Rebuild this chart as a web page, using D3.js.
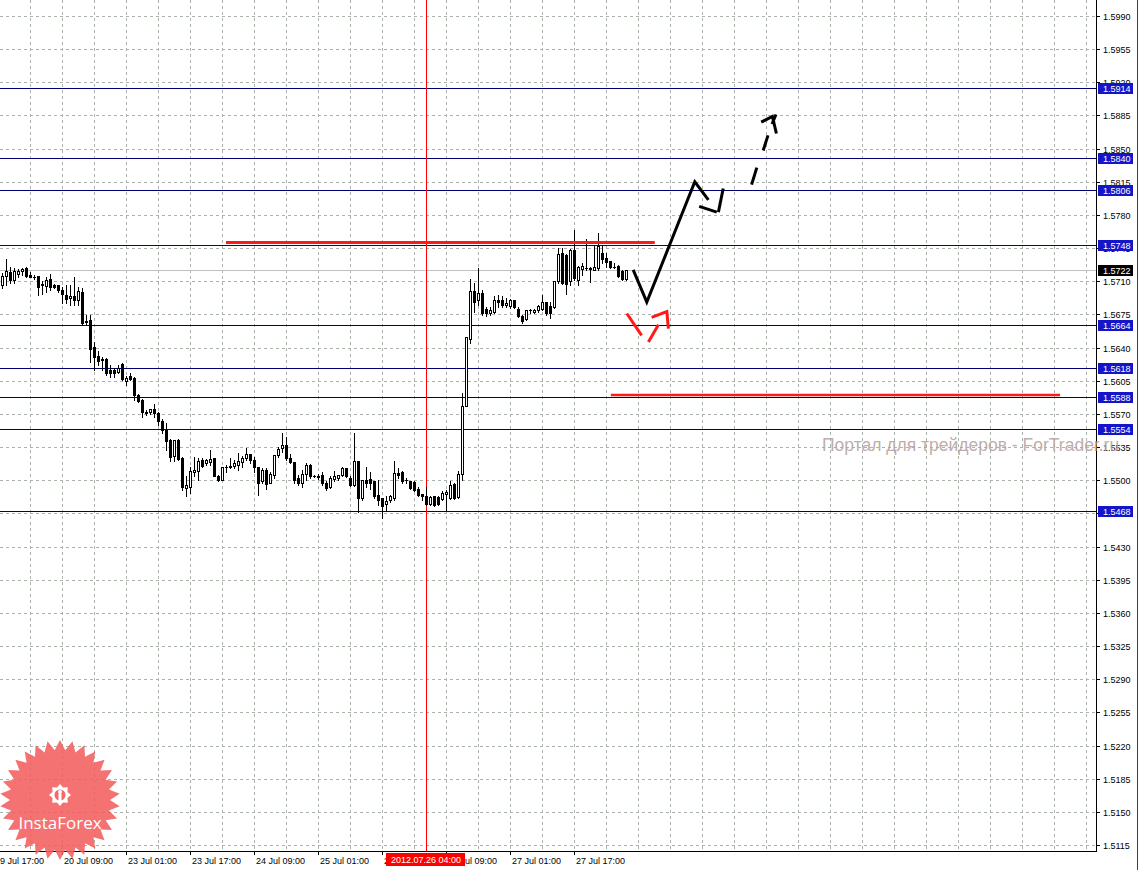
<!DOCTYPE html>
<html><head><meta charset="utf-8">
<script src="https://cdn.jsdelivr.net/npm/d3@7"></script>
<style>html,body{margin:0;padding:0;background:#fff;overflow:hidden}svg{display:block}</style>
</head><body>
<svg id="c" width="1139" height="870"></svg>
<script>
// ---- data (GBPUSD H1, bars 19 Jul 18:00 ... ) ----
const open = [1.5706,1.5716,1.5720,1.5711,1.5718,1.5721,1.5724,1.5717,1.5715,1.5716,
1.5707,1.5705,1.5712,1.5706,1.5706,1.5701,1.5696,1.5692,1.5694,1.5690,
1.5699,1.5667,1.5669,1.5641,1.5631,1.5628,1.5628,1.5616,1.5616,1.5614,
1.5623,1.5605,1.5610,1.5608,1.5590,1.5585,1.5572,1.5572,1.5575,1.5571,
1.5563,1.5553,1.5542,1.5526,1.5543,1.5523,1.5492,1.5493,1.5509,1.5510,
1.5521,1.5518,1.5519,1.5523,1.5505,1.5500,1.5514,1.5514,1.5515,1.5516,
1.5519,1.5523,1.5528,1.5521,1.5514,1.5499,1.5511,1.5497,1.5506,1.5527,
1.5534,1.5537,1.5524,1.5519,1.5502,1.5497,1.5507,1.5516,1.5504,1.5504,
1.5506,1.5497,1.5493,1.5501,1.5502,1.5506,1.5513,1.5502,1.5495,1.5520,
1.5481,1.5500,1.5501,1.5499,1.5484,1.5481,1.5475,1.5479,1.5481,1.5508,
1.5509,1.5500,1.5499,1.5498,1.5491,1.5486,1.5483,1.5475,1.5483,1.5482,
1.5480,1.5485,1.5481,1.5496,1.5482,1.5507,1.5578,1.5649,1.5700,1.5690,
1.5698,1.5681,1.5677,1.5678,1.5690,1.5690,1.5685,1.5684,1.5690,1.5681,
1.5673,1.5670,1.5680,1.5678,1.5680,1.5681,1.5688,1.5684,1.5683,1.5710,
1.5740,1.5738,1.5710,1.5743,1.5711,1.5723,1.5724,1.5724,1.5722,1.5724,
1.5740,1.5735,1.5731,1.5725,1.5726,1.5721,1.5712];
const high = [1.5719,1.5734,1.5725,1.5724,1.5723,1.5724,1.5725,1.5720,1.5717,1.5716,
1.5710,1.5714,1.5718,1.5707,1.5706,1.5704,1.5706,1.5706,1.5715,1.5704,
1.5703,1.5674,1.5674,1.5646,1.5636,1.5630,1.5629,1.5622,1.5618,1.5622,
1.5624,1.5610,1.5613,1.5609,1.5591,1.5586,1.5574,1.5575,1.5580,1.5572,
1.5565,1.5560,1.5544,1.5542,1.5544,1.5525,1.5504,1.5514,1.5525,1.5523,
1.5523,1.5522,1.5532,1.5523,1.5506,1.5514,1.5516,1.5524,1.5521,1.5529,
1.5526,1.5534,1.5528,1.5525,1.5514,1.5513,1.5513,1.5509,1.5527,1.5535,
1.5550,1.5546,1.5528,1.5519,1.5506,1.5511,1.5518,1.5517,1.5506,1.5507,
1.5509,1.5499,1.5504,1.5510,1.5506,1.5514,1.5513,1.5504,1.5550,1.5520,
1.5500,1.5514,1.5509,1.5499,1.5500,1.5481,1.5483,1.5484,1.5520,1.5513,
1.5510,1.5502,1.5499,1.5499,1.5493,1.5486,1.5493,1.5483,1.5483,1.5483,
1.5489,1.5490,1.5499,1.5497,1.5510,1.5592,1.5651,1.5712,1.5708,1.5724,
1.5701,1.5683,1.5683,1.5694,1.5696,1.5694,1.5692,1.5691,1.5690,1.5683,
1.5674,1.5680,1.5681,1.5681,1.5685,1.5696,1.5688,1.5688,1.5710,1.5745,
1.5745,1.5739,1.5744,1.5764,1.5726,1.5729,1.5755,1.5725,1.5747,1.5761,
1.5748,1.5740,1.5731,1.5729,1.5727,1.5722,1.5722];
const low = [1.5703,1.5706,1.5708,1.5708,1.5715,1.5717,1.5715,1.5714,1.5712,1.5696,
1.5697,1.5699,1.5701,1.5703,1.5699,1.5687,1.5687,1.5685,1.5685,1.5685,
1.5664,1.5664,1.5625,1.5616,1.5622,1.5616,1.5611,1.5609,1.5609,1.5613,
1.5606,1.5600,1.5606,1.5585,1.5583,1.5567,1.5569,1.5570,1.5567,1.5558,
1.5550,1.5532,1.5520,1.5520,1.5521,1.5490,1.5483,1.5487,1.5504,1.5500,
1.5514,1.5516,1.5516,1.5504,1.5499,1.5500,1.5509,1.5513,1.5513,1.5511,
1.5514,1.5521,1.5518,1.5509,1.5484,1.5497,1.5491,1.5497,1.5502,1.5525,
1.5530,1.5521,1.5518,1.5497,1.5495,1.5493,1.5500,1.5502,1.5503,1.5501,
1.5495,1.5490,1.5492,1.5499,1.5500,1.5505,1.5503,1.5494,1.5494,1.5467,
1.5479,1.5493,1.5491,1.5481,1.5474,1.5460,1.5469,1.5477,1.5479,1.5502,
1.5497,1.5497,1.5491,1.5489,1.5483,1.5479,1.5474,1.5474,1.5473,1.5474,
1.5479,1.5469,1.5480,1.5480,1.5481,1.5500,1.5578,1.5645,1.5678,1.5685,
1.5674,1.5673,1.5674,1.5676,1.5683,1.5683,1.5683,1.5682,1.5682,1.5672,
1.5666,1.5669,1.5676,1.5676,1.5678,1.5680,1.5674,1.5671,1.5682,1.5708,
1.5707,1.5697,1.5706,1.5711,1.5706,1.5717,1.5722,1.5709,1.5722,1.5722,
1.5729,1.5725,1.5724,1.5724,1.5715,1.5711,1.5711];
const close = [1.5716,1.5721,1.5711,1.5721,1.5721,1.5723,1.5716,1.5715,1.5715,1.5704,
1.5706,1.5711,1.5704,1.5704,1.5701,1.5697,1.5691,1.5694,1.5690,1.5700,
1.5666,1.5668,1.5639,1.5630,1.5626,1.5627,1.5613,1.5613,1.5613,1.5618,
1.5607,1.5608,1.5607,1.5590,1.5584,1.5572,1.5571,1.5575,1.5571,1.5563,
1.5553,1.5541,1.5525,1.5542,1.5522,1.5493,1.5495,1.5510,1.5511,1.5520,
1.5515,1.5521,1.5522,1.5505,1.5500,1.5514,1.5514,1.5515,1.5518,1.5520,
1.5523,1.5528,1.5521,1.5514,1.5497,1.5511,1.5496,1.5507,1.5527,1.5533,
1.5537,1.5524,1.5519,1.5500,1.5497,1.5507,1.5516,1.5504,1.5504,1.5505,
1.5497,1.5492,1.5502,1.5504,1.5506,1.5513,1.5504,1.5495,1.5520,1.5481,
1.5500,1.5497,1.5497,1.5483,1.5479,1.5473,1.5478,1.5483,1.5508,1.5506,
1.5499,1.5500,1.5492,1.5490,1.5484,1.5483,1.5475,1.5482,1.5474,1.5475,
1.5487,1.5488,1.5495,1.5481,1.5507,1.5578,1.5651,1.5700,1.5688,1.5698,
1.5676,1.5677,1.5680,1.5690,1.5688,1.5685,1.5687,1.5690,1.5683,1.5673,
1.5668,1.5680,1.5680,1.5680,1.5684,1.5688,1.5677,1.5677,1.5710,1.5739,
1.5708,1.5707,1.5743,1.5713,1.5725,1.5726,1.5724,1.5723,1.5725,1.5747,
1.5733,1.5730,1.5725,1.5725,1.5716,1.5712,1.5722];

const priceTicks = [1.5990,1.5955,1.5920,1.5885,1.5850,1.5815,1.5780,1.5745,1.5710,1.5675,1.5640,1.5605,1.5570,1.5535,1.5500,1.5465,1.5430,1.5395,1.5360,1.5325,1.5290,1.5255,1.5220,1.5185,1.5150,1.5115];
const timeTickBars = [-1,15,31,47,63,79,95,111,127,143];
const timeTickLabels = ["19 Jul 17:00","20 Jul 09:00","23 Jul 01:00","23 Jul 17:00","24 Jul 09:00","25 Jul 01:00","25 Jul 17:00","26 Jul 09:00","27 Jul 01:00","27 Jul 17:00"];
const levels = [1.5914,1.5840,1.5806,1.5748,1.5664,1.5618,1.5588,1.5554,1.5468];
const currentPrice = 1.5722;
const markerBar = 106, markerLabel = "2012.07.26 04:00";
// hand-drawn annotations: [bar, price]
const redLines = [[[56,1.5751],[163.2,1.5751]], [[152.2,1.5590],[264.5,1.5590]]];
const blackStrokes = [
  [[157.8,1.5722],[161.2,1.5688],[173.2,1.5815],[176.6,1.5796]],
  [[174.3,1.5789],[178.7,1.5783]],
  [[179.1,1.5783],[180.3,1.5808]]];
const blackDashes = [[[187.4,1.5812],[188.7,1.5830]],[[190.3,1.5848],[191.5,1.5864]],[[192.5,1.5876],[193.5,1.5886]]];
const arrowHead = [[189.8,1.5878],[192.6,1.5884],[193.6,1.5866]];
const redStrokes = [
  [[156.2,1.5676],[159.9,1.5653]],
  [[161.6,1.5646],[164.1,1.5664]],
  [[162.4,1.5672],[166.2,1.5678],[166.6,1.5660]]];
const watermark = "Портал для трейдеров - ForTrader.ru";

// ---- layout ----
const W = 1139, H = 870, plotR = 1096, plotB = 851;
const svg = d3.select("#c");
const x = d3.scaleLinear().domain([0, 1]).range([2, 6]);   // 4 px per bar
const y = d3.scaleLinear().domain([1.5115, 1.5990]).range([845, 16]);
const px = v => Math.round(x(v));
const py = v => Math.round(y(v));
const font = "'Liberation Sans', Arial, sans-serif";
const fs = "9px";

svg.append("rect").attr("width", W).attr("height", H).attr("fill", "#fff");
const plot = svg.append("g");
svg.append("clipPath").attr("id","pc").append("rect").attr("x",0).attr("y",0).attr("width",plotR).attr("height",plotB);

// grid
const gridColor = "#a9b3a9";
plot.selectAll("line.hg").data(priceTicks).join("line")
  .attr("x1", 0).attr("x2", plotR).attr("y1", d => py(d) + 0.5).attr("y2", d => py(d) + 0.5)
  .attr("stroke", gridColor).attr("stroke-dasharray", "3,3");
const vgrid = d3.range(-1, 280, 8);
plot.selectAll("line.vg").data(vgrid.filter(b => x(b) > 0 && x(b) < plotR)).join("line")
  .attr("x1", d => px(d) + 0.5).attr("x2", d => px(d) + 0.5).attr("y1", 0).attr("y2", plotB)
  .attr("stroke", gridColor).attr("stroke-dasharray", "3,3");

// current price line
plot.append("line").attr("x1",0).attr("x2",plotR).attr("y1",py(currentPrice)+0.5).attr("y2",py(currentPrice)+0.5)
  .attr("stroke","#c0c0c0");

// level lines
plot.selectAll("line.lv").data(levels).join("line")
  .attr("x1",0).attr("x2",plotR).attr("y1",d=>py(d)+0.5).attr("y2",d=>py(d)+0.5)
  .attr("stroke",d => d === 1.5748 ? "#0000b4" : "#000070").attr("stroke-width",1);

// marker vertical line
plot.append("line").attr("x1",px(markerBar)+0.5).attr("x2",px(markerBar)+0.5).attr("y1",0).attr("y2",plotB)
  .attr("stroke","#ff0000");

// candles
const bars = d3.range(open.length).map(i => ({i, o: open[i], h: high[i], l: low[i], c: close[i]}));
const cg = plot.append("g");
cg.selectAll("line.wick").data(bars).join("line")
  .attr("x1", d => px(d.i) + 0.5).attr("x2", d => px(d.i) + 0.5)
  .attr("y1", d => py(d.h)).attr("y2", d => py(d.l) + 1)
  .attr("stroke", "#000");
cg.selectAll("rect.body").data(bars).join("rect")
  .each(function(d){
    const top = py(Math.max(d.o, d.c)), bot = py(Math.min(d.o, d.c));
    const s = d3.select(this);
    if (d.c > d.o) {
      s.attr("x", px(d.i) - 0.5).attr("y", top + 0.5).attr("width", 2).attr("height", Math.max(bot - top, 1))
       .attr("fill", "#fff").attr("stroke", "#000");
    } else {
      s.attr("x", px(d.i) - 1).attr("y", top).attr("width", 3).attr("height", Math.max(bot - top + 1, 1))
       .attr("fill", "#000");
    }
  });

// annotations
const lineGen = d3.line().x(d => x(d[0])).y(d => y(d[1]));
const ann = plot.append("g").attr("clip-path","url(#pc)");
ann.selectAll("path.rl").data(redLines).join("path").attr("d", lineGen)
  .attr("fill","none").attr("stroke","#ff1a1a").attr("stroke-width",(d,i)=> i===0?3:2.5);
ann.selectAll("path.bs").data(blackStrokes.concat(blackDashes,[arrowHead])).join("path").attr("d", lineGen)
  .attr("fill","none").attr("stroke","#000").attr("stroke-width",3).attr("stroke-linejoin","miter");
ann.selectAll("path.rs").data(redStrokes).join("path").attr("d", lineGen)
  .attr("fill","none").attr("stroke","#ff1a1a").attr("stroke-width",3);

// axes frame
svg.append("line").attr("x1",plotR+0.5).attr("x2",plotR+0.5).attr("y1",0).attr("y2",plotB+1).attr("stroke","#000");
svg.append("line").attr("x1",0).attr("x2",plotR+1).attr("y1",plotB+0.5).attr("y2",plotB+0.5).attr("stroke","#000");
svg.append("line").attr("x1",W-1.5).attr("x2",W-1.5).attr("y1",0).attr("y2",H).attr("stroke","#404040");

// price axis ticks & labels
svg.selectAll("line.pt").data(priceTicks).join("line")
  .attr("x1",plotR).attr("x2",plotR+4).attr("y1",d=>py(d)+0.5).attr("y2",d=>py(d)+0.5).attr("stroke","#000");
svg.selectAll("text.pl").data(priceTicks).join("text")
  .attr("x",plotR+7).attr("y",d=>py(d)+4).attr("font-family",font).attr("font-size",fs).attr("fill","#000")
  .text(d=>d.toFixed(4));

// level boxes
const boxes = svg.selectAll("g.lb").data(levels).join("g").attr("transform",d=>`translate(${plotR+2},${py(d)-5})`);
boxes.append("rect").attr("width",35).attr("height",11).attr("fill","#1414c8");
boxes.append("text").attr("x",5).attr("y",9).attr("font-family",font).attr("font-size",fs).attr("fill","#fff").text(d=>d.toFixed(4));
const cb = svg.append("g").attr("transform",`translate(${plotR+2},${py(currentPrice)-5})`);
cb.append("rect").attr("width",35).attr("height",11).attr("fill","#000");
cb.append("text").attr("x",5).attr("y",9).attr("font-family",font).attr("font-size",fs).attr("fill","#fff").text(currentPrice.toFixed(4));

// time axis
svg.selectAll("line.tt").data(timeTickBars).join("line")
  .attr("x1",d=>px(d)+0.5).attr("x2",d=>px(d)+0.5).attr("y1",plotB).attr("y2",plotB+4).attr("stroke","#000");
svg.selectAll("text.tl").data(timeTickBars).join("text")
  .attr("x",(d,i)=>px(d)+ (i===0 ? -3 : 2)).attr("y",plotB+13).attr("font-family",font).attr("font-size",fs).attr("fill","#000")
  .text((d,i)=>timeTickLabels[i]);
const mb = svg.append("g").attr("transform",`translate(${px(markerBar)-40},${plotB+2})`);
mb.append("rect").attr("width",79).attr("height",13).attr("fill","#ff0000");
mb.append("text").attr("x",40).attr("y",10).attr("text-anchor","middle").attr("font-family",font).attr("font-size",fs).attr("fill","#fff").text(markerLabel);

// watermark
svg.append("text").attr("x",822).attr("y",451).attr("font-family",font).attr("font-size","17.5px")
  .attr("fill","#b5a3a3").attr("fill-opacity",0.9).text(watermark);

// logo
const lg = svg.append("g").attr("transform","translate(60,800)");
const nPts = 30, rO = 60, rI = 50;
const starPts = d3.range(nPts*2).map(k => { const r = k%2 ? rI : rO; const a = Math.PI*k/nPts - Math.PI/2; return [r*Math.cos(a), r*Math.sin(a)]; });
lg.append("polygon").attr("points", starPts.map(p=>p.join(",")).join(" ")).attr("fill","#f25f5f").attr("fill-opacity",0.88);
const gearPts = d3.range(16).map(k => { const r = (k%2) ? 8 : 11; const a = Math.PI*k/8; return [r*Math.cos(a), r*Math.sin(a)-5]; });
lg.append("polygon").attr("points", gearPts.map(p=>p.join(",")).join(" ")).attr("fill","#fff");
lg.append("circle").attr("cx",0).attr("cy",-5).attr("r",5.5).attr("fill","#f06a6a");
lg.append("circle").attr("cx",0).attr("cy",-8).attr("r",2).attr("fill","#fff");
lg.append("rect").attr("x",-1.5).attr("y",-6).attr("width",3).attr("height",10).attr("fill","#fff");
lg.append("text").attr("x",0).attr("y",29).attr("text-anchor","middle").attr("font-family","'Open Sans', 'Liberation Sans', sans-serif")
  .attr("font-size","17px").attr("fill","#fff").text("InstaForex");
</script>
</body></html>
